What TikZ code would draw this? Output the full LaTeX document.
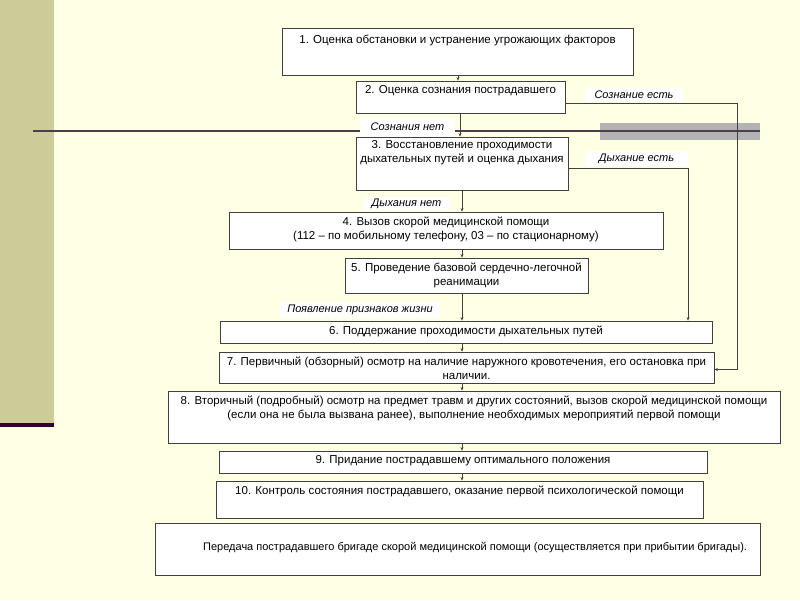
\documentclass[tikz,border=0pt]{standalone}
\usepackage{fontspec}
\setmainfont{Liberation Sans}
\usetikzlibrary{arrows.meta}

\definecolor{bgyellow}{HTML}{FFFFE3}
\definecolor{olive}{HTML}{CCCC99}
\definecolor{plum}{HTML}{330033}
\definecolor{rule}{HTML}{4D3D4D}
\definecolor{band}{HTML}{B3B3B3}
\definecolor{edge}{HTML}{404040}

\tikzset{
  box/.style={draw=edge, fill=white, line width=0.8pt, inner sep=0pt},
  boxtext/.style={anchor=north, align=center, inner sep=0pt, font=\fontsize{11.5}{14}\selectfont},
  tag/.style={fill=white, inner sep=0pt, font=\fontsize{11}{13}\selectfont\itshape},
  arr/.style={draw=edge, line width=0.7pt, -{Stealth[length=3.5pt,width=3pt]}}
}

\begin{document}
\begin{tikzpicture}[x=1pt,y=-1pt]
\useasboundingbox (0,0) rectangle (800,600);
\fill [bgyellow] (0,0) rectangle (800,600);
\fill [olive] (0,0) rectangle (54,423);
\fill [plum] (0,423) rectangle (54,427);
\fill [band] (600,123) rectangle (760,140);
\draw [rule, line width=2pt] (33,131) -- (760,131);

% boxes
\node [box, minimum width=351, minimum height=47] (b1) at (457.5,51.5) {};
\node [boxtext] at ([yshift=-7]b1.north) {1. Оценка обстановки и устранение угрожающих факторов};
\node [box, minimum width=209, minimum height=32] (b2) at (460.5,97) {};
\node [boxtext] at ([yshift=-5]b2.north) {2. Оценка сознания пострадавшего};
\node [box, minimum width=212, minimum height=53] (b3) at (462,163.5) {};
\node [boxtext] at ([yshift=-4]b3.north) {3. Восстановление проходимости\\дыхательных путей и оценка дыхания};
\node [box, minimum width=434, minimum height=37] (b4) at (446,230.5) {};
\node [boxtext] at ([yshift=-5]b4.north) {4. Вызов скорой медицинской помощи\\(112 – по мобильному телефону, 03 – по стационарному)};
\node [box, minimum width=243, minimum height=35] (b5) at (466.5,275.5) {};
\node [boxtext] at ([yshift=-5]b5.north) {5. Проведение базовой сердечно-легочной\\реанимации};
\node [box, minimum width=492, minimum height=22] (b6) at (466,332) {};
\node [boxtext] at ([yshift=-5]b6.north) {6. Поддержание проходимости дыхательных путей};
\node [box, minimum width=495, minimum height=31] (b7) at (466.5,367.5) {};
\node [boxtext] at ([yshift=-5]b7.north) {7. Первичный (обзорный) осмотр на наличие наружного кровотечения, его остановка при\\наличии.};
\node [box, minimum width=612, minimum height=52] (b8) at (474,417) {};
\node [boxtext] at ([yshift=-5]b8.north) {8. Вторичный (подробный) осмотр на предмет травм и других состояний, вызов скорой медицинской помощи\\(если она не была вызвана ранее), выполнение необходимых мероприятий первой помощи};
\node [box, minimum width=488, minimum height=22] (b9) at (463,462) {};
\node [boxtext] at ([yshift=-5]b9.north) {9. Придание пострадавшему оптимального положения};
\node [box, minimum width=487, minimum height=37] (b10) at (459.5,499.5) {};
\node [boxtext] at ([yshift=-5]b10.north) {10. Контроль состояния пострадавшего, оказание первой психологической помощи};
\node [box, minimum width=605, minimum height=52] (b11) at (457.5,549) {};
\node [boxtext, anchor=west, font=\fontsize{11}{13}\selectfont] at (203,548) {Передача пострадавшего бригаде скорой медицинской помощи (осуществляется при прибытии бригады).};

% labels
\node [tag, minimum width=98, minimum height=14] (yes1) at (634,95) {Сознание есть};
\node [tag, minimum width=95, minimum height=19] (no1) at (407.5,127) {Сознания нет};
\node [tag, minimum width=103, minimum height=15] (yes2) at (636.5,158.5) {Дыхание есть};
\node [tag, minimum width=87, minimum height=13] (no2) at (406.5,203.5) {Дыхания нет};
\node [tag, minimum width=160, minimum height=16] (life) at (360,310) {Появление признаков жизни};

% connectors
\coordinate (m1) at (458,0);
\coordinate (m2) at (460,0);
\coordinate (m3) at (462,0);
\coordinate (r1) at (737,103);
\coordinate (r2) at (688,168);
\draw [arr] (b1.south -| m1) -- (b2.north -| m1);
\draw [arr] (b2.south -| m2) -- (b3.north -| m2);
\draw [arr] (b3.south -| m3) -- (b4.north -| m3);
\draw [arr] (b4.south -| m3) -- (b5.north -| m3);
\draw [arr] (b5.south -| m3) -- (b6.north -| m3);
\draw [arr] (b6.south -| m3) -- (b7.north -| m3);
\draw [arr] (b7.south -| m3) -- (b8.north -| m3);
\draw [arr] (b8.south -| m3) -- (b9.north -| m3);
\draw [arr] (b9.south -| m3) -- (b10.north -| m3);
\draw [arr] (b2.east |- r1) -- (r1) |- ([yshift=-2]b7.east);
\draw [arr] (b3.east |- r2) -- (r2) -- (b6.north -| r2);
\end{tikzpicture}
\end{document}
